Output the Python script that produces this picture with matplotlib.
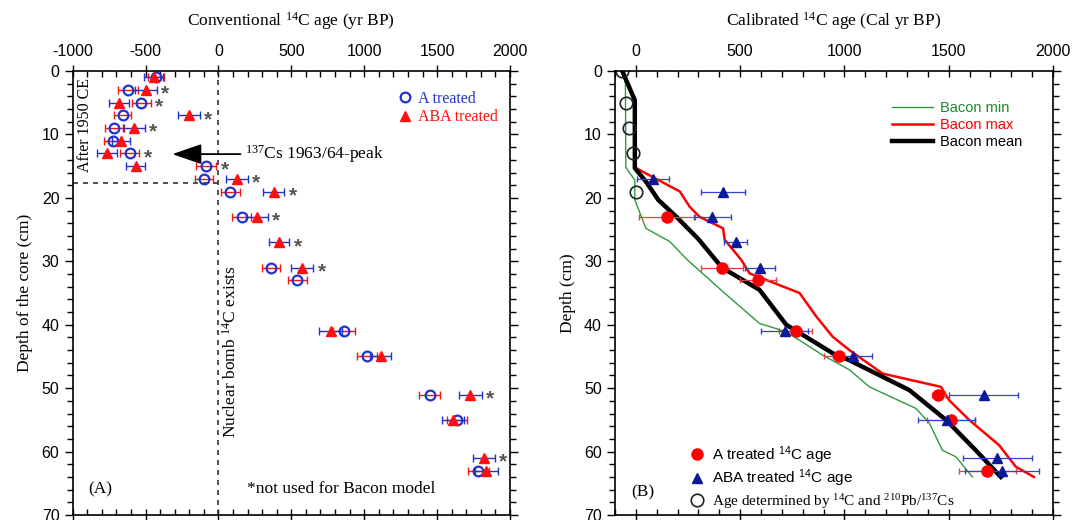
import matplotlib
matplotlib.use("Agg")
import matplotlib.pyplot as plt
from matplotlib.ticker import MultipleLocator

plt.rcParams['font.family'] = ['Liberation Sans', 'DejaVu Sans']
plt.rcParams['axes.unicode_minus'] = False
SERIF = ['Liberation Serif', 'DejaVu Serif']

# ---- panel A: conventional 14C ages ----
a_depth = [1, 3, 5, 7, 9, 11, 13, 15, 17, 19, 23, 31, 33, 41, 45, 51, 55, 63]
a_age = [-426, -620, -528, -658, -716, -722, -608, -84, -100, 80, 159, 360, 542, 861, 1020, 1449, 1636, 1784]
a_err = [55, 70, 65, 60, 65, 60, 65, 70, 60, 65, 65, 60, 65, 75, 70, 70, 70, 75]
a_star = [0, 0, 1, 0, 0, 0, 1, 1, 0, 0, 0, 0, 0, 0, 0, 0, 0, 0]

b_depth = [1, 3, 5, 7, 9, 11, 13, 15, 17, 19, 23, 27, 31, 41, 45, 51, 55, 61, 63]
b_age = [-444, -499, -681, -203, -579, -670, -763, -567, 128, 378, 265, 417, 576, 770, 1112, 1727, 1608, 1823, 1837]
b_err = [65, 75, 70, 75, 75, 60, 70, 65, 75, 75, 75, 70, 75, 80, 75, 80, 75, 75, 80]
b_star = [0, 1, 0, 1, 1, 0, 0, 0, 1, 1, 1, 1, 1, 0, 0, 1, 0, 1, 0]

after1950_depth = 17.6
cs_peak_depth = 13.1

# ---- panel B: calibrated ages + Bacon model ----
min_age = [-65, -50, -48, -5, -5, 48, 163, 230, 258, 418, 593, 721, 896, 1024, 1120, 1343, 1407, 1470, 1534, 1614]
min_depth = [0, 2, 15.2, 17.2, 20.3, 24.8, 26.9, 29.2, 30.1, 34.8, 39.8, 41.1, 44.8, 47.1, 49.8, 53.2, 55.5, 59.8, 60.8, 64]

max_age = [-65, -5, -5, 211, 258, 306, 418, 426, 506, 545, 785, 865, 944, 1024, 1183, 1463, 1502, 1598, 1742, 1822, 1909]
max_depth = [0, 4.6, 15.2, 19.0, 21.4, 23, 24.8, 26.6, 29.8, 31.9, 35, 38.7, 41.9, 44, 47.7, 49.8, 51.9, 55, 59, 62.4, 64]

mean_age = [-65, -5, -5, 50, 107, 195, 300, 413, 593, 721, 944, 1024, 1311, 1487, 1630, 1750]
mean_depth = [0, 4.6, 15.3, 17.5, 20.3, 23, 26.5, 31, 34.5, 40, 44.5, 45.6, 50.3, 55, 59.8, 64]

cal_a_depth = [23, 31, 33, 41, 45, 51, 55, 63]
cal_a_age = [150, 413, 585, 766, 976, 1451, 1511, 1686]
cal_a_err = [133, 103, 86, 80, 76, 30, 117, 136]

cal_b_depth = [17, 19, 23, 27, 31, 41, 45, 51, 55, 61, 63]
cal_b_age = [83, 418, 367, 478, 593, 713, 1040, 1667, 1490, 1734, 1755]
cal_b_err = [76, 107, 88, 55, 72, 112, 93, 165, 135, 165, 176]

pb_depth = [0, 5, 9, 13, 19]
pb_age = [-65, -48, -32, -13, 3]

blue = '#2233cc'
red = '#ff1010'
navy = '#0a1a9a'


def style_axes(ax, xlim):
    ax.set_xlim(xlim)
    ax.set_ylim(70, 0)
    ax.xaxis.set_major_locator(MultipleLocator(500))
    ax.xaxis.set_minor_locator(MultipleLocator(100))
    ax.yaxis.set_major_locator(MultipleLocator(10))
    ax.yaxis.set_minor_locator(MultipleLocator(2))
    ax.xaxis.tick_top()
    ax.xaxis.set_label_position('top')
    ax.tick_params(axis='x', which='both', top=True, bottom=True,
                   labeltop=True, labelbottom=False, direction='in', width=1)
    ax.tick_params(axis='x', which='major', direction='inout', length=9, pad=4)
    ax.tick_params(axis='x', which='minor', length=4)
    ax.tick_params(axis='y', which='both', left=True, right=True,
                   direction='out', width=1)
    ax.tick_params(axis='y', which='major', length=6)
    ax.tick_params(axis='y', which='minor', length=4)
    ax.tick_params(labelsize=11.5)
    for s in ax.spines.values():
        s.set_linewidth(1.2)


fig = plt.figure(figsize=(10.75, 5.2), dpi=100)
axA = fig.add_axes([0.0676, 0.0096, 0.4068, 0.8538])
axB = fig.add_axes([0.5721, 0.0096, 0.4074, 0.8538])

# ---------- A ----------
style_axes(axA, (-1000, 2000))
axA.axvline(0, color='#333333', lw=1.2, ls=(0, (3, 3)))
axA.plot([-1000, 0], [after1950_depth, after1950_depth], color='#333333', lw=1.2, ls=(0, (3, 3)))

axA.errorbar(a_age, a_depth, xerr=a_err, fmt='none', ecolor=red, elinewidth=1, capsize=3)
axA.errorbar(b_age, b_depth, xerr=b_err, fmt='none', ecolor=blue, elinewidth=1, capsize=3)
axA.plot(a_age, a_depth, 'o', mfc='none', mec=blue, mew=1.6, ms=7, ls='none', label='A treated')
axA.plot(b_age, b_depth, '^', color=red, ms=7.5, ls='none', label='ABA treated')

for ages, depths, errs, stars in ((a_age, a_depth, a_err, a_star), (b_age, b_depth, b_err, b_star)):
    for x, y, e, s in zip(ages, depths, errs, stars):
        if s:
            axA.annotate('*', xy=(x + e, y), xytext=(6, -3), textcoords='offset points',
                         ha='center', va='center', fontsize=15, color='#555555',
                         fontweight='bold')

leg = axA.legend(loc='upper left', bbox_to_anchor=(0.745, 0.955), frameon=False,
                 prop={'family': SERIF, 'size': 11.5}, handlelength=0.8,
                 handletextpad=0.4, labelspacing=0.15, borderpad=0, borderaxespad=0)
leg.get_texts()[0].set_color(blue)
leg.get_texts()[1].set_color(red)

axA.annotate('', xy=(-335, cs_peak_depth), xytext=(170, cs_peak_depth),
             arrowprops=dict(arrowstyle='-|>,head_length=1.3,head_width=0.45',
                             color='black', lw=1.3, mutation_scale=14))
axA.text(180, cs_peak_depth, '$\\mathregular{^{137}}$Cs 1963/64-peak', family=SERIF,
         fontsize=12.5, va='center', ha='left')

axA.text(0.028, 0.878, 'After 1950 CE', transform=axA.transAxes, rotation=90,
         family=SERIF, fontsize=11.5, ha='center', va='center')
axA.text(0.362, 0.367, 'Nuclear bomb $\\mathregular{^{14}}$C exists', transform=axA.transAxes,
         rotation=90, family=SERIF, fontsize=12.5, ha='center', va='center')
axA.text(0.062, 0.058, '(A)', transform=axA.transAxes, family=SERIF, fontsize=12.5,
         ha='center', va='center')
axA.text(0.399, 0.058, '*not used for Bacon model', transform=axA.transAxes, family=SERIF,
         fontsize=12.5, ha='left', va='center')

axA.set_xlabel('Conventional $\\mathregular{^{14}}$C age (yr BP)', family=SERIF,
               fontsize=12.5, labelpad=13)
axA.set_ylabel('Depth of the core (cm)', family=SERIF, fontsize=12.5, labelpad=6)

# ---------- B ----------
style_axes(axB, (-100, 2000))
axB.plot(min_age, min_depth, color='#2e9a3e', lw=1, label='Bacon min')
axB.plot(max_age, max_depth, color='#ff0000', lw=1.8, label='Bacon max')
axB.plot(mean_age, mean_depth, color='black', lw=3.2, label='Bacon mean')

axB.errorbar(cal_a_age, cal_a_depth, xerr=cal_a_err, fmt='none', ecolor='#e04040',
             elinewidth=0.9, capsize=2.5)
axB.errorbar(cal_b_age, cal_b_depth, xerr=cal_b_err, fmt='none', ecolor='#3344cc',
             elinewidth=0.9, capsize=2.5)
pa, = axB.plot(cal_a_age, cal_a_depth, 'o', color='#ff0000', ms=8, ls='none')
pb, = axB.plot(cal_b_age, cal_b_depth, '^', color=navy, ms=7, ls='none')
pc, = axB.plot(pb_age, pb_depth, 'o', mfc='none', mec='#222222', mew=1.2, ms=9, ls='none')

leg1 = axB.legend(loc='upper left', bbox_to_anchor=(0.632, 0.932), frameon=False,
                  fontsize=10.5, handlelength=2.8, handletextpad=0.5,
                  labelspacing=0.2, borderpad=0, borderaxespad=0)
for t, c in zip(leg1.get_texts(), ['#1a8a2a', '#ff0000', 'black']):
    t.set_color(c)
axB.add_artist(leg1)

leg2 = axB.legend([pa, pb, pc],
                  ['A treated $\\mathregular{^{14}}$C age', 'ABA treated $\\mathregular{^{14}}$C age',
                   'Age determined by $\\mathregular{^{14}}$C and $\\mathregular{^{210}}$Pb/$\\mathregular{^{137}}$Cs'],
                  loc='upper left', bbox_to_anchor=(0.17, 0.16), frameon=False,
                  fontsize=11, handlelength=1.0, handletextpad=0.5, labelspacing=0.15,
                  borderpad=0, borderaxespad=0)
leg2.get_texts()[2].set_family(SERIF)

axB.text(0.064, 0.05, '(B)', transform=axB.transAxes, family=SERIF, fontsize=12.5,
         ha='center', va='center')
axB.set_xlabel('Calibrated $\\mathregular{^{14}}$C age (Cal yr BP)', family=SERIF,
               fontsize=12.5, labelpad=13)
axB.set_ylabel('Depth (cm)', family=SERIF, fontsize=12.5, labelpad=6)

fig.savefig('out.png', dpi=100)
